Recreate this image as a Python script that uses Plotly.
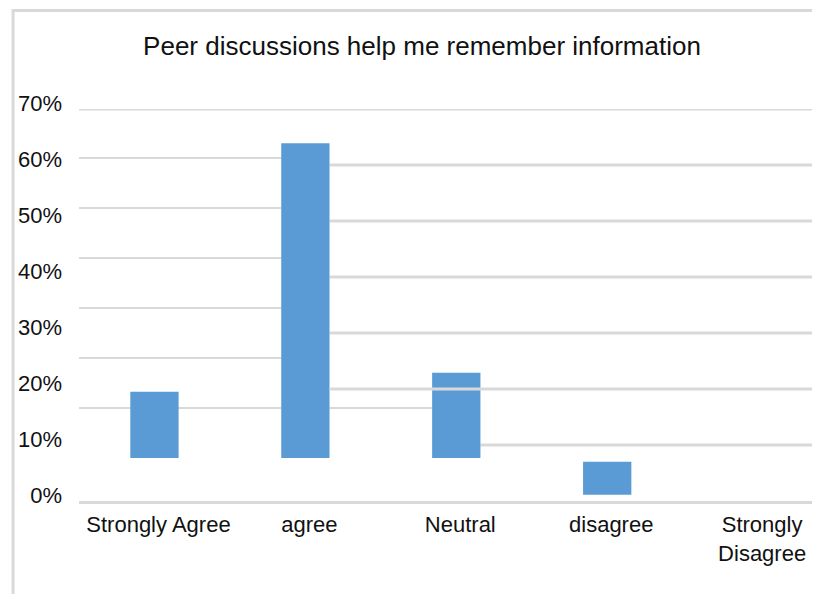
import plotly.graph_objects as go

# values (bars float above the axis in the source image)
categories = ["Strongly Agree", "agree", "Neutral", "disagree", "Strongly<br>Disagree"]
bar_base = [0.077, 0.077, 0.077, 0.011, 0.0]
bar_height = [0.118, 0.562, 0.152, 0.059, 0.0]
y_ticks = [0, 0.1, 0.2, 0.3, 0.4, 0.5, 0.6, 0.7]
y_labels = ["0%", "10%", "20%", "30%", "40%", "50%", "60%", "70%"]

title = "Peer discussions help me remember information"

BAR_W = 0.32
X_END = 4.41
GRID = "#d9d9d9"
FIG_H = 586

fig = go.Figure(
    go.Bar(
        x=categories,
        y=bar_height,
        base=bar_base,
        width=BAR_W,
        marker_color="#5B9BD5",
        marker_line_width=0,
    )
)

# page body has an 8px margin, figure is placed at (8, 8)
fig.update_layout(
    width=812,
    height=FIG_H,
    margin=dict(l=70.5, r=0, t=101, b=FIG_H - 493),
    paper_bgcolor="white",
    plot_bgcolor="white",
    font=dict(family="Arial, Liberation Sans", size=22, color="#111111"),
    showlegend=False,
    title=dict(
        text=title,
        x=414 / 812,
        xanchor="center",
        y=1 - 38 / FIG_H,
        yanchor="middle",
        font=dict(size=26, color="#111111"),
    ),
)

fig.update_xaxes(
    type="category",
    range=[-0.5, X_END],
    showgrid=False,
    showline=True,
    linecolor=GRID,
    linewidth=3,
    ticks="",
    ticklabelstandoff=2,
    ticklabelshift=4,
    tickfont=dict(size=22),
)

fig.update_yaxes(
    range=[0, 0.7],
    tickvals=y_ticks,
    ticktext=y_labels,
    showgrid=False,
    zeroline=False,
    showline=False,
    ticks="",
    ticklabelstandoff=16,
    ticklabelshift=-6,
    tickfont=dict(size=22),
)
fig.update_layout(yaxis2=dict(overlaying="y", range=[-0.086, 0.698], visible=False))

# gridlines: the source image is pieced together from two charts,
# so there are two sets of gridlines
fig.add_shape(type="line", xref="x", yref="y", x0=-0.5, x1=X_END, y0=0.7, y1=0.7,
              line=dict(color=GRID, width=3), layer="below")
for v in y_ticks[1:7]:
    start = 2 + BAR_W / 2 if v == 0.1 else 1 + BAR_W / 2
    fig.add_shape(type="line", xref="x", yref="y", x0=start, x1=X_END, y0=v, y1=v,
                  line=dict(color=GRID, width=3),
                  layer="above" if v == 0.2 else "below")
for v in y_ticks[1:7]:
    stop = 2 - BAR_W / 2 if v == 0.1 else 1 - BAR_W / 2
    fig.add_shape(type="line", xref="x", yref="y2", x0=-0.5, x1=stop, y0=v, y1=v,
                  line=dict(color=GRID, width=2), layer="below")

# chart area border (clipped by the picture edges on right and bottom)
fig.add_shape(
    type="rect",
    xref="paper", yref="paper",
    x0=-0.089, x1=1.2, y0=-0.4, y1=1.251,
    line=dict(color=GRID, width=3),
    fillcolor="rgba(0,0,0,0)",
    layer="below",
)

fig.write_html("out.html")
